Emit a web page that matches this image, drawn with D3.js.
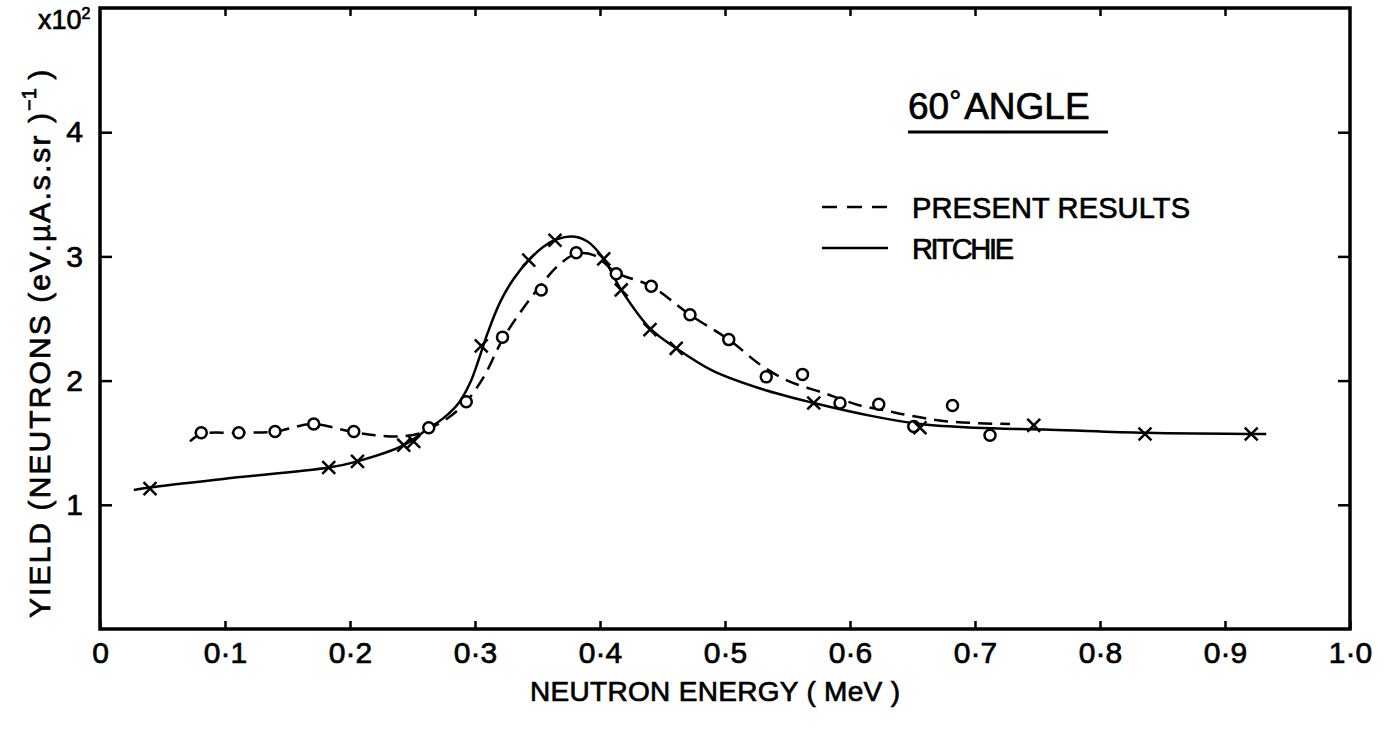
<!DOCTYPE html>
<html>
<head>
<meta charset="utf-8">
<script src="https://cdn.jsdelivr.net/npm/d3@7"></script>
<style>
  body { margin: 0; background: #fff; }
  text { font-family: "Liberation Sans Narrow", "Liberation Sans", Arial, sans-serif; fill: #000; stroke: #000; stroke-width: 0.7px; }
</style>
</head>
<body>
<script>
// valores (energia em MeV, rendimento em 10^2)
const presentE = [0.081, 0.111, 0.140, 0.171, 0.203, 0.263, 0.293, 0.322, 0.353, 0.381, 0.413,
                  0.441, 0.472, 0.503, 0.533, 0.562, 0.592, 0.623, 0.651, 0.682, 0.712];
const presentY = [1.58, 1.58, 1.59, 1.65, 1.59, 1.62, 1.83, 2.35, 2.73, 3.03, 2.86,
                  2.76, 2.53, 2.33, 2.03, 2.05, 1.82, 1.81, 1.63, 1.80, 1.56];

const ritchieE = [0.040, 0.183, 0.206, 0.243, 0.251, 0.305, 0.343, 0.364, 0.403, 0.417,
                  0.440, 0.461, 0.571, 0.656, 0.747, 0.836, 0.921];
const ritchieY = [1.13, 1.30, 1.35, 1.48, 1.51, 2.28, 2.97, 3.13, 2.98, 2.73,
                  2.41, 2.26, 1.82, 1.62, 1.64, 1.57, 1.57];

// curvas desenhadas a mão (pontos lidos ao longo das linhas)
const presentCurveE = [0.072, 0.081, 0.11, 0.14, 0.17, 0.20, 0.22, 0.24, 0.256, 0.265, 0.28, 0.293,
                       0.307, 0.322, 0.337, 0.352, 0.367, 0.381, 0.395, 0.413, 0.441, 0.472, 0.503,
                       0.528, 0.55, 0.579, 0.608, 0.627, 0.647, 0.68, 0.728];
const presentCurveY = [1.51, 1.57, 1.58, 1.59, 1.65, 1.59, 1.56, 1.55, 1.575, 1.62, 1.71, 1.83,
                       2.03, 2.33, 2.56, 2.76, 2.93, 3.02, 3.01, 2.87, 2.76, 2.53, 2.33,
                       2.13, 2.0, 1.90, 1.80, 1.763, 1.72, 1.67, 1.65];

const ritchieCurveE = [0.027, 0.04, 0.10, 0.183, 0.206, 0.243, 0.262, 0.275, 0.287, 0.296, 0.303,
                       0.310, 0.320, 0.331, 0.343, 0.355, 0.366, 0.378, 0.39, 0.403, 0.417, 0.44,
                       0.461, 0.49, 0.53, 0.571, 0.62, 0.656, 0.70, 0.76, 0.836, 0.933];
const ritchieCurveY = [1.12, 1.14, 1.21, 1.30, 1.35, 1.48, 1.61, 1.70, 1.82, 1.98, 2.17,
                       2.38, 2.63, 2.82, 2.97, 3.08, 3.14, 3.16, 3.12, 2.98, 2.73, 2.42,
                       2.26, 2.08, 1.93, 1.82, 1.71, 1.65, 1.62, 1.605, 1.58, 1.57];

const xTicks = [0, 0.1, 0.2, 0.3, 0.4, 0.5, 0.6, 0.7, 0.8, 0.9, 1.0];
const yTicks = [1, 2, 3, 4];

const width = 1391, height = 731;

const svg = d3.select("body").append("svg")
    .attr("width", width)
    .attr("height", height);

const x = d3.scaleLinear().domain([0, 1]).range([100, 1350]);
const y = d3.scaleLinear().domain([0, 5]).range([629, 8]);

const fmtX = d => d === 0 ? "0" : d3.format(".1f")(d).replace(".", "\u00b7");

// moldura
svg.append("rect")
    .attr("x", x(0)).attr("y", y(5))
    .attr("width", x(1) - x(0)).attr("height", y(0) - y(5))
    .attr("fill", "none").attr("stroke", "#000").attr("stroke-width", 3.5);

// eixo x
const gx = svg.append("g")
    .attr("transform", "translate(0," + y(0) + ")")
    .call(d3.axisBottom(x).tickValues(xTicks).tickSize(-8).tickPadding(13).tickFormat(fmtX));
gx.select(".domain").remove();
gx.selectAll("line").attr("stroke-width", 2.5);
gx.selectAll("text").style("font-size", "30px").attr("fill", "#000");

const gxTop = svg.append("g")
    .attr("transform", "translate(0," + y(5) + ")")
    .call(d3.axisTop(x).tickValues(xTicks.slice(1, -1)).tickSize(-8).tickFormat(""));
gxTop.select(".domain").remove();
gxTop.selectAll("line").attr("stroke-width", 2.5);

// eixo y
const gy = svg.append("g")
    .attr("transform", "translate(" + x(0) + ",0)")
    .call(d3.axisLeft(y).tickValues(yTicks).tickSize(-12).tickPadding(17).tickFormat(d3.format("d")));
gy.select(".domain").remove();
gy.selectAll("line").attr("stroke-width", 2.5);
gy.selectAll("text").style("font-size", "30px").attr("fill", "#000");

const gyR = svg.append("g")
    .attr("transform", "translate(" + x(1) + ",0)")
    .call(d3.axisRight(y).tickValues(yTicks).tickSize(-12).tickFormat(""));
gyR.select(".domain").remove();
gyR.selectAll("line").attr("stroke-width", 2.5);

// curvas
const line = d3.line()
    .x(d => x(d[0]))
    .y(d => y(d[1]))
    .curve(d3.curveCatmullRom.alpha(0.5));

svg.append("path")
    .datum(ritchieCurveE.map((e, i) => [e, ritchieCurveY[i]]))
    .attr("d", line)
    .attr("fill", "none").attr("stroke", "#000").attr("stroke-width", 2.5);

svg.append("path")
    .datum(presentCurveE.map((e, i) => [e, presentCurveY[i]]))
    .attr("d", line)
    .attr("fill", "none").attr("stroke", "#000").attr("stroke-width", 2.5)
    .attr("stroke-dasharray", "14,8");

// pontos
svg.append("g").selectAll("circle")
    .data(presentE.map((e, i) => [e, presentY[i]]))
    .join("circle")
    .attr("cx", d => x(d[0]))
    .attr("cy", d => y(d[1]))
    .attr("r", 5.5)
    .attr("fill", "#fff").attr("stroke", "#000").attr("stroke-width", 2.5);

const cross = d3.symbol().type(d3.symbolX).size(110);
svg.append("g").selectAll("path")
    .data(ritchieE.map((e, i) => [e, ritchieY[i]]))
    .join("path")
    .attr("transform", d => "translate(" + x(d[0]) + "," + y(d[1]) + ")")
    .attr("d", cross)
    .attr("fill", "none").attr("stroke", "#000").attr("stroke-width", 2.5);

// titulo e legenda
const title = svg.append("text")
    .attr("x", 908).attr("y", 119)
    .style("font-size", "37px");
title.append("tspan").text("60");
title.append("tspan").attr("dy", -8).style("font-size", "30px").text("\u00b0");
title.append("tspan").attr("dy", 8).attr("dx", 3).text("ANGLE");
svg.append("line")
    .attr("x1", 908).attr("x2", 1108).attr("y1", 132).attr("y2", 132)
    .attr("stroke", "#000").attr("stroke-width", 3);

const legend = [
  { label: "PRESENT RESULTS", dash: "15,10", y: 207, len: 278 },
  { label: "RITCHIE", dash: null, y: 248, len: 102 }
];
const lg = svg.append("g").selectAll("g").data(legend).join("g");
lg.append("line")
    .attr("x1", 822).attr("x2", 888)
    .attr("y1", d => d.y).attr("y2", d => d.y)
    .attr("stroke", "#000").attr("stroke-width", 2.5)
    .attr("stroke-dasharray", d => d.dash);
lg.append("text")
    .attr("x", 912).attr("y", d => d.y + 11)
    .attr("textLength", d => d.len).attr("lengthAdjust", "spacing")
    .style("font-size", "29px")
    .text(d => d.label);

// rotulos dos eixos
svg.append("text")
    .attr("x", 715).attr("y", 701)
    .attr("text-anchor", "middle")
    .attr("textLength", 370).attr("lengthAdjust", "spacing")
    .style("font-size", "28px")
    .text("NEUTRON ENERGY ( MeV )");

const yl = svg.append("text")
    .attr("transform", "translate(50,618) rotate(-90)")
    .style("font-size", "30px");
yl.append("tspan").attr("textLength", 505).attr("lengthAdjust", "spacing")
    .text("YIELD (NEUTRONS (eV.\u00b5A.s.sr )");
yl.append("tspan").attr("dy", -14).style("font-size", "20px").text("\u22121");
yl.append("tspan").attr("dy", 14).text(" )");

const mult = svg.append("text")
    .attr("x", 38).attr("y", 29)
    .style("font-size", "27px");
mult.append("tspan").text("x10");
mult.append("tspan").attr("dy", -10).style("font-size", "16px").text("2");
</script>
</body>
</html>
